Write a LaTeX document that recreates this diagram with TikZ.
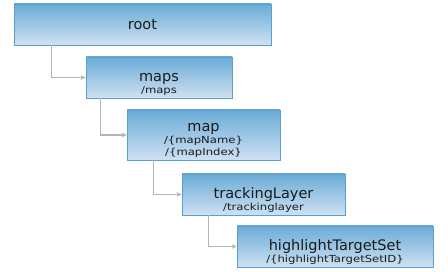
\documentclass[tikz,border=0pt]{standalone}
\usepackage{fontspec}
\setmainfont{DejaVu Sans}
\newfontfamily\subfont[FakeStretch=1.2]{DejaVu Sans}
\usetikzlibrary{arrows.meta}
\definecolor{boxtop}{HTML}{6AACD7}
\definecolor{boxbottom}{HTML}{CFE1F2}
\definecolor{boxline}{HTML}{5A9FCF}
\definecolor{linkgray}{HTML}{B4B4B4}
\definecolor{txt}{HTML}{1A1A1A}
\newcommand{\sub}[1]{\\{\subfont\fontsize{9.7}{12}\selectfont #1}}

\begin{document}
\begin{tikzpicture}[x=1pt, y=-1pt,
  res/.style={draw=boxline, line width=0.8pt, top color=boxtop, bottom color=boxbottom,
    text=txt, align=center, inner sep=0pt, minimum height=41pt, font=\fontsize{14.5}{12.4}\selectfont},
  twoline/.style={text height=32pt, text depth=0pt},
  link/.style={draw=linkgray, line width=1.4pt, -{Stealth[length=5pt,width=5pt]}}]
\useasboundingbox (0,0) rectangle (448,272);
\node (root) [res, minimum width=257pt] at (142.5,24.5) {root};
\node (maps) [res, twoline, minimum width=146pt] at (159,77.5) {maps\sub{/maps}};
\node (map) [res, minimum width=153pt, minimum height=50pt, text height=42pt, text depth=0pt] at (203.5,135) {map\sub{/\{mapName\}}\sub{/\{mapIndex\}}};
\node (tracking) [res, twoline, minimum width=163pt] at (263.5,194.5) {trackingLayer\sub{/trackinglayer}};
\node (highlight) [res, twoline, minimum width=196pt] at (335,246.5) {highlightTargetSet\sub{/\{highlightTargetSetID\}}};
\draw[link] ([xshift=38pt]root.south west) |- (maps.west);
\draw[link] ([xshift=15pt]maps.south west) |- (map.west);
\draw[link] ([xshift=27pt]map.south west) |- (tracking.west);
\draw[link] ([xshift=27pt]tracking.south west) |- (highlight.west);
\end{tikzpicture}
\end{document}
